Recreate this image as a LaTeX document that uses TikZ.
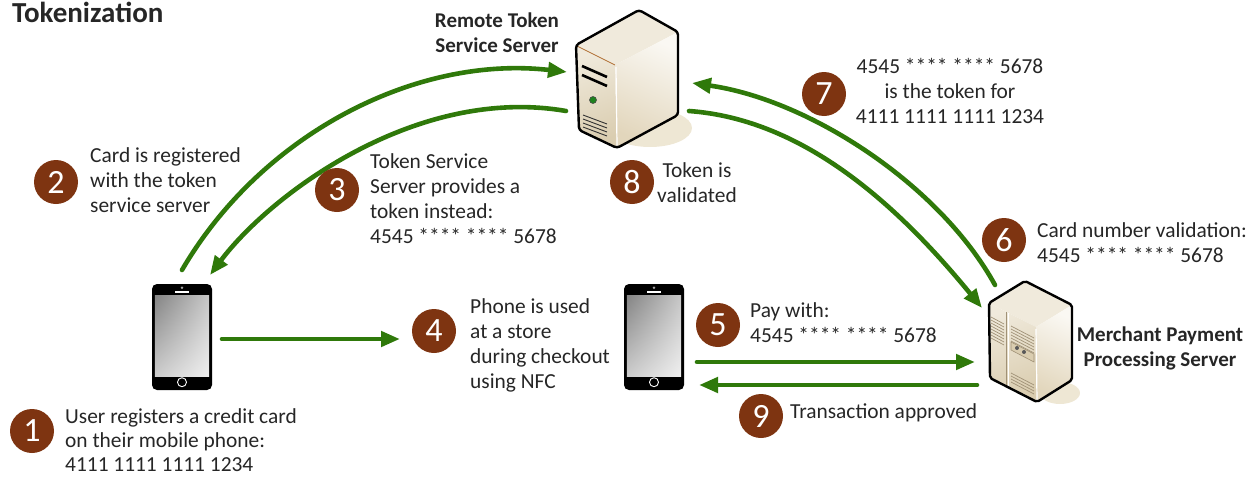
\documentclass[tikz,border=0pt]{standalone}
\usepackage{fontspec}
\setmainfont{Carlito}
\usetikzlibrary{arrows.meta,shadings}

\definecolor{flowgreen}{RGB}{47,121,10}
\definecolor{stepbrown}{RGB}{126,52,17}
\definecolor{ink}{RGB}{38,38,38}
\definecolor{beigeA}{RGB}{240,234,220}
\definecolor{beigeB}{RGB}{218,205,176}
\definecolor{beigeC}{RGB}{250,248,243}
\definecolor{beigeD}{RGB}{226,214,188}
\definecolor{floorshade}{RGB}{238,231,212}
\definecolor{ventline}{RGB}{160,145,118}
\definecolor{edgebrown}{RGB}{176,110,50}
\definecolor{ledgreen}{RGB}{30,130,30}

\tikzset{
  stepnum/.style={circle, fill=stepbrown, text=white, minimum size=44pt,
    inner sep=0pt, font=\fontsize{34}{34}\selectfont},
  % multi-line texts: the anchor sits on the baseline of the last line
  txt/.style={anchor=base west, align=left, inner sep=0pt, text=ink,
    font=\fontsize{21.4}{25}\selectfont},
  ctxt/.style={anchor=base, align=center, inner sep=0pt, text=ink,
    font=\fontsize{21.4}{25}\selectfont},
  btxt/.style={anchor=base, align=center, inner sep=0pt, text=ink,
    font=\bfseries\fontsize{21}{24.5}\selectfont},
  flow/.style={draw=flowgreen, line width=4.6pt, line cap=round,
    -{Triangle[length=19pt,width=15pt]}},
  phonebody/.style={fill=black, rounded corners=5pt, minimum width=60pt,
    minimum height=106pt, inner sep=0pt},
  boxfill/.style={inner sep=0pt, minimum width=#1, minimum height=#1}
}

\begin{document}
\begin{tikzpicture}[x=1pt,y=-1pt]
\useasboundingbox (0,0) rectangle (1255,479);

% ---------- title ----------
\node[anchor=base west, inner sep=0pt, text=ink, font=\bfseries\fontsize{29}{29}\selectfont]
  (title) at (12,22) {Tokenization};

% ---------- remote token service server (tower) ----------
\fill[floorshade] (650,128) ellipse (42 and 19);
\fill[beigeA] (576,45) -- (639,10) -- (678,32) -- (615,65) -- cycle;
\shade[top color=beigeA, bottom color=beigeB, shading angle=20]
  (576,45) -- (615,65) -- (617,148) -- (579,130) -- cycle;
\shade[top color=beigeC, bottom color=beigeD, shading angle=-25]
  (615,65) -- (678,32) -- (678,115) -- (617,148) -- cycle;
\draw[edgebrown, line width=0.8pt] (577,46) -- (615,65);
\draw[white, line width=1.2pt] (616,67) -- (617,146);
\draw[black, line width=2.4pt, line join=round, rounded corners=3pt]
  (576,45) -- (639,10) -- (678,32) -- (678,115) -- (617,148) -- (579,130) -- cycle;
% slots, indicator and vents on the front panel
\draw[black, line width=2.6pt] (582,66) -- (607,77);
\draw[black, line width=2.6pt] (582,75) -- (607,86);
\filldraw[fill=ledgreen, draw=black!70, line width=0.6pt] (593,100) circle (3.5);
\foreach \k in {0,...,3}
  \draw[black!80, line width=0.9pt] (583,115+4*\k) -- (607,124+4*\k);
\node[boxfill=10pt] (tss) at (627,80) {};

% ---------- merchant payment processing server (cabinet) ----------
\fill[floorshade] (1060,393) ellipse (20 and 11);
\fill[beigeA] (989,303) -- (1025,281) -- (1072,305) -- (1036,327) -- cycle;
\shade[top color=beigeA, bottom color=beigeB, shading angle=20]
  (989,303) -- (1036,327) -- (1037,402) -- (990,378) -- cycle;
\shade[top color=beigeC, bottom color=beigeD, shading angle=-25]
  (1036,327) -- (1072,305) -- (1072,380) -- (1037,402) -- cycle;
\draw[white, line width=1.2pt] (1036,329) -- (1037,400);
% doors and vents
\draw[ventline, line width=0.8pt] (1006,312) -- (1006,386);
\draw[white, line width=1pt] (1008,313) -- (1008,387);
\foreach \k in {0,...,7}
  \draw[ventline, line width=0.7pt] (991,317+3*\k) -- (1004,324+3*\k);
\foreach \k in {0,...,7}
  \draw[ventline, line width=0.7pt] (1011,326+3*\k) -- (1034,338+3*\k);
\foreach \k in {0,...,3}
  \draw[ventline, line width=0.7pt] (1011,373+3*\k) -- (1034,385+3*\k);
\filldraw[fill=beigeB, draw=ventline, line width=0.6pt]
  (1011,342) -- (1034,354) -- (1034,362) -- (1011,350) -- cycle;
\fill[black!65] (1017,348) circle (2);
\fill[black!65] (1024,352) circle (2);
\draw[black, line width=2.4pt, line join=round, rounded corners=2pt]
  (989,303) -- (1025,281) -- (1072,305) -- (1072,380) -- (1037,402) -- (990,378) -- cycle;
\node[boxfill=10pt] (mps) at (1030,342) {};

% ---------- phones ----------
\node[phonebody] (ph1) at (182,337) {};
\node[phonebody] (ph2) at (654,337) {};
\foreach \p in {ph1,ph2} {
  \shade[upper left=black!48, upper right=black!22, lower left=black!20, lower right=black!6]
    ([shift={(3,12)}]\p.north west) rectangle ([shift={(-3,-14)}]\p.south east);
  \draw[white, line width=1.6pt] ([shift={(-7,8)}]\p.north) -- ([shift={(7,8)}]\p.north);
  \fill[black!35] ([shift={(0,4)}]\p.north) circle (1.4);
  \draw[white, line width=0.9pt] ([shift={(0,-8)}]\p.south) circle (4.5);
}

% ---------- server labels ----------
\node[btxt] (tsslabel) at (497,52) {Remote Token\\Service Server};
\node[btxt] (mpslabel) at (1160,366) {Merchant Payment\\Processing Server};

% ---------- connector end points ----------
\coordinate (ph1-up)   at (182,270);
\coordinate (ph1-in)   at (210,275);
\coordinate (ph1-out)  at (222,339);
\coordinate (store)    at (400,339);
\coordinate (tss-in)   at (567,72);
\coordinate (tss-out)  at (566,111);
\coordinate (tss-outR) at (689,111);
\coordinate (tss-inR)  at (692,83);
\coordinate (mps-in)   at (982,308);
\coordinate (mps-out)  at (995,285);
\coordinate (ph2-out)  at (697,362);
\coordinate (mps-inL)  at (975,362);
\coordinate (mps-outL) at (977,385);
\coordinate (ph2-in)   at (699,385);

% ---------- connectors ----------
\draw[flow] (ph1-up) .. controls (262,133) and (417,55) .. (tss-in);
\draw[flow] (tss-out) .. controls (416,85) and (270,195) .. (ph1-in);
\draw[flow] (ph1-out) -- (store);
\draw[flow] (ph2-out) -- (mps-inL);
\draw[flow] (mps-outL) -- (ph2-in);
\draw[flow] (tss-outR) .. controls (799,119) and (892,198) .. (mps-in);
\draw[flow] (mps-out) .. controls (940,185) and (810,100) .. (tss-inR);

% ---------- numbered steps ----------
\node[stepnum] (s1) at (32,431)  {1};
\node[stepnum] (s2) at (56,182)  {2};
\node[stepnum] (s3) at (337,190) {3};
\node[stepnum] (s4) at (434,331) {4};
\node[stepnum] (s5) at (718,325) {5};
\node[stepnum] (s6) at (1004,240) {6};
\node[stepnum] (s7) at (824,94)  {7};
\node[stepnum] (s8) at (632,182) {8};
\node[stepnum] (s9) at (761,416) {9};

% ---------- step descriptions ----------
\node[txt, font=\fontsize{21.4}{24}\selectfont] (t1) at (65,471)
  {User registers a credit card\\on their mobile phone:\\4111 1111 1111 1234};
\node[txt] (t2) at (90,212) {Card is registered\\with the token\\service server};
\node[txt] (t3) at (370,243) {Token Service\\Server provides a\\token instead:\\4545 **** **** 5678};
\node[txt] (t4) at (470,388) {Phone is used\\at a store\\during checkout\\using NFC};
\node[txt] (t5) at (750,342) {Pay with:\\4545 **** **** 5678};
\node[txt] (t6) at (1037,262) {Card number validation:\\4545 **** **** 5678};
\node[ctxt] (t7) at (950,123) {4545 **** **** 5678\\is the token for\\4111 1111 1111 1234};
\node[ctxt] (t8) at (697,202) {Token is\\validated};
\node[txt] (t9) at (790,418) {Transaction approved};

\end{tikzpicture}
\end{document}
